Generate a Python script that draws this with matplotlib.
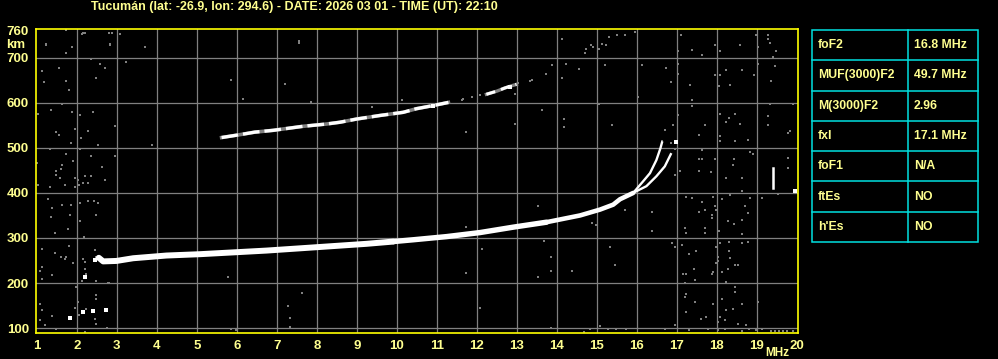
import matplotlib
matplotlib.use("Agg")
import matplotlib.pyplot as plt
from matplotlib.patches import Rectangle

# ionogram Tucuman 2026-03-01 22:10 UT
title = "Tucumán (lat: -26.9, lon: 294.6) - DATE: 2026 03 01 - TIME (UT): 22:10"

x_ticks = list(range(1, 21))
y_ticks = [100, 200, 300, 400, 500, 600, 700, 760]

# F2 trace (common part, then O and X branches)
f2_freq = [2.55, 2.66, 2.99, 3.41, 4.24, 5.08, 5.91, 6.74, 7.58, 8.41, 9.24,
           9.91, 10.41, 11.24, 12.08, 12.91, 13.74, 14.58, 15.08, 15.41, 15.58, 15.91]
f2_height = [256, 248, 249, 255, 261, 264, 268, 272, 277, 282, 287,
             292, 296, 303, 312, 324, 335, 350, 363, 374, 386, 400]
o_freq = [15.91, 16.16, 16.33, 16.49, 16.59, 16.63]
o_height = [400, 426, 444, 473, 499, 512]
x_freq = [15.95, 16.24, 16.49, 16.70, 16.85]
x_height = [402, 415, 437, 459, 486]

# second hop
hop2a_freq = [5.62, 6.12, 6.45, 6.91, 7.66, 8.24, 8.58, 8.99, 9.58, 10.16, 10.49, 10.91, 11.29]
hop2a_height = [523, 530, 535, 539, 548, 553, 557, 564, 572, 579, 587, 594, 601]
hop2b_freq = [12.24, 12.5, 12.7, 12.87, 12.99]
hop2b_height = [619, 626, 633, 638, 641]

# short echo near 19.4 MHz
spur_freq = [19.4, 19.4]
spur_height = [411, 455]

# isolated strong pixels
dot_freq = [2.41, 2.74, 2.15, 1.84, 2.2, 16.99, 19.95, 12.83, 10.91, 2.45]
dot_height = [138, 139, 136, 122, 214, 514, 405, 636, 594, 252]

# grey noise pixels
noise_freq = [
    1.74, 1.24, 1.89, 1.74, 2.15, 2.84, 3.7, 2.35, 2.59, 2.7, 3.24, 1.55, 1.14, 1.19,
    1.74, 2.49, 1.8, 1.64, 1.35, 1.89, 1.04, 2.09, 2.41, 2.95, 2.29, 1.95, 1.49, 1.55,
    2.1, 1.85, 2.53, 3.89, 1.33, 2.09, 1.74, 2.35, 2.95, 1.64, 1.0, 1.91, 2.64, 1.49,
    1.6, 1.49, 2.2, 2.35, 1.59, 1.95, 2.03, 2.7, 2.16, 2.29, 1.7, 1.03, 1.34, 1.95,
    2.06, 1.29, 2.29, 2.44, 1.64, 1.85, 2.09, 1.39, 2.53, 1.83, 2.49, 1.35, 2.09, 1.77,
    1.45, 2.18, 1.81, 1.14, 2.45, 1.45, 1.6, 1.74, 1.7, 2.16, 2.2, 1.91, 2.49, 1.14,
    1.09, 2.2, 2.24, 1.39, 1.14, 2.14, 2.49, 2.8, 1.99, 2.49, 2.49, 1.09, 2.03, 1.95,
    1.14, 2.24, 1.39, 2.06, 2.45, 1.09, 1.2, 1.49, 2.49, 2.76, 2.2, 2.14, 2.2, 2.8,
    2.89, 3.09, 1.24, 1.89, 2.84,
    7.55, 7.55, 5.85, 7.2, 6.15, 7.85, 10.14, 11.66, 11.87, 9.39, 5.79, 7.63, 7.28,
    7.34, 7.34, 5.85, 5.99, 2.78,
    14.14, 14.7, 14.74, 14.85, 14.91, 15.05, 15.14, 15.24, 15.3, 15.5, 15.7, 15.95,
    13.89, 14.24, 14.55, 15.2, 16.14, 16.74, 13.74, 14.14, 13.39, 13.34, 13.03, 12.95,
    11.64, 11.89, 12.09, 16.04, 15.05, 13.64, 14.19, 14.19, 12.95, 15.39, 16.7, 11.74,
    11.74, 13.54, 15.7, 16.39, 16.39, 14.99, 14.89, 13.69, 12.14, 13.85, 15.34, 15.45,
    13.85, 14.39, 13.54, 11.74, 12.09, 13.85, 14.84, 15.09, 15.28, 15.48, 15.74, 14.69,
    16.7,
    17.1, 17.39, 17.64, 17.03, 17.95, 18.09, 18.59, 18.99, 19.28, 19.28, 19.34, 19.04,
    19.49, 19.41, 16.74, 17.03, 17.04, 16.85, 18.22, 18.62, 17.95, 18.09, 18.93, 19.04,
    19.45, 19.35, 17.34, 18.32, 18.05, 17.39, 17.39, 19.91, 19.34, 17.03, 18.09, 18.3,
    18.45, 18.22, 18.59, 19.29, 19.29, 17.7, 16.91, 16.7, 19.83, 19.78, 17.56, 18.09,
    18.09, 18.45, 18.79, 16.64, 16.85, 16.95, 17.64, 18.84, 18.91, 19.78, 17.64, 17.56,
    17.95, 18.42, 19.79, 17.09, 17.56, 17.85, 18.22, 18.62, 18.41, 16.95, 18.63, 17.91,
    18.12, 17.39, 17.24, 18.32, 18.82, 19.13, 19.52, 17.64, 17.95, 18.7, 17.56, 17.7,
    17.89, 17.89, 17.99, 18.29, 18.62, 18.79, 18.42, 17.2, 17.7, 17.7, 17.24, 18.05,
    18.62, 16.87, 17.14, 16.95, 17.99, 18.09, 18.3, 18.62, 18.79, 17.49, 17.31, 18.3,
    18.04, 18.32, 18.04, 17.99, 18.45, 18.53, 17.44, 17.16, 17.24, 17.45, 17.89, 17.91,
    18.14, 18.28, 18.22, 18.45, 18.45, 17.2, 17.2, 17.24, 17.45, 17.24, 17.91, 18.14,
    18.22, 18.41, 18.62, 19.04, 17.61, 17.74, 18.04, 18.2, 18.08, 18.53, 18.74, 16.95,
    16.7, 17.31, 17.78, 18.04, 18.2, 18.62, 18.8, 18.99, 19.12, 19.35, 19.45, 19.55,
    19.65, 19.75, 19.9,
]
noise_height = [
    761, 729, 724, 711, 755, 729, 723, 698, 686, 678, 690, 678, 670, 646,
    648, 656, 629, 598, 585, 579, 576, 572, 580, 549, 538, 541, 535, 528,
    522, 510, 506, 506, 498, 497, 486, 483, 483, 462, 466, 470, 457, 448,
    453, 439, 438, 437, 433, 433, 429, 429, 422, 422, 418, 418, 413, 413,
    418, 387, 382, 382, 373, 373, 378, 366, 377, 351, 351, 347, 338, 321,
    311, 302, 283, 276, 273, 267, 258, 258, 253, 253, 246, 244, 258, 236,
    227, 231, 219, 218, 209, 204, 204, 200, 191, 173, 164, 154, 158, 145,
    141, 142, 127, 130, 121, 118, 107, 98, 110, 101, 92, 752, 756, 756,
    756, 752, 730, 725, 730,
    738, 734, 651, 642, 609, 603, 607, 608, 614, 590, 214, 178, 149,
    122, 103, 97, 96, 201,
    742, 710, 720, 729, 724, 720, 731, 729, 747, 751, 751, 758,
    683, 686, 675, 683, 683, 678, 664, 656, 651, 648, 643, 620,
    607, 614, 617, 612, 598, 584, 564, 547, 553, 550, 540, 535,
    325, 370, 361, 357, 315, 329, 334, 294, 276, 258, 281, 241,
    227, 227, 214, 223, 145, 100, 97, 104, 97, 97, 97, 92,
    98,
    751, 718, 707, 716, 729, 716, 729, 751, 751, 742, 733, 724,
    716, 702, 678, 686, 664, 646, 673, 673, 661, 661, 662, 686,
    681, 648, 639, 640, 638, 607, 592, 597, 597, 573, 575, 567,
    575, 558, 553, 570, 550, 550, 550, 540, 538, 533, 528, 526,
    515, 515, 518, 515, 511, 498, 496, 492, 487, 478, 476, 475,
    475, 475, 455, 448, 448, 446, 434, 434, 461, 439, 405, 392,
    387, 388, 392, 396, 388, 388, 397, 379, 370, 370, 357, 361,
    351, 344, 361, 337, 340, 355, 330, 322, 322, 310, 310, 316,
    308, 288, 284, 281, 279, 288, 292, 288, 292, 271, 265, 271,
    258, 255, 249, 244, 241, 241, 231, 219, 219, 207, 219, 224,
    224, 230, 203, 192, 181, 199, 170, 175, 157, 136, 153, 164,
    140, 142, 154, 158, 120, 124, 114, 118, 125, 110, 107, 107,
    98, 96, 98, 96, 98, 93, 97, 96, 98, 94, 93, 94,
    93, 94, 93,
]

W, H = 998, 359
yellow = "#ffff00"
text_yellow = "#ffff90"
font = "Liberation Sans"

fig = plt.figure(figsize=(W / 100, H / 100), dpi=100, facecolor="black")
ax = fig.add_axes([36 / W, (H - 333) / H, (798 - 36) / W, (333 - 29) / H])
ax.set_facecolor("black")
ax.set_xlim(0.98, 20.03)
ax.set_ylim(89, 764)

ax.set_xticks(x_ticks)
ax.set_xticklabels([str(v) for v in x_ticks])
ax.set_yticks(y_ticks)
ax.set_yticklabels([str(v) for v in y_ticks])
ax.tick_params(length=0, colors=text_yellow, labelsize=9.5, pad=5)
for lab in ax.get_xticklabels() + ax.get_yticklabels():
    lab.set_fontweight("bold")
    lab.set_family(font)
# grid: skip the 760 label line and the 20 edge
for xv in x_ticks[1:-1]:
    ax.axvline(xv, color="#808080", lw=0.9, zorder=1)
for yv in y_ticks[:-1]:
    ax.axhline(yv, color="#808080", lw=0.9, zorder=1)
for sp in ax.spines.values():
    sp.set_color(yellow)
    sp.set_linewidth(1.2)

ax.plot(noise_freq, noise_height, "s", color="#808080", ms=1.8, mew=0, zorder=2)
ax.plot(f2_freq[:12], f2_height[:12], color="white", lw=4.3, solid_capstyle="round", zorder=4)
ax.plot(f2_freq[11:17], f2_height[11:17], color="white", lw=3.9, solid_capstyle="round", zorder=4)
ax.plot(f2_freq[16:], f2_height[16:], color="white", lw=3.3, solid_capstyle="round", zorder=4)
ax.plot(o_freq, o_height, color="white", lw=1.7, zorder=4)
ax.plot(x_freq, x_height, color="white", lw=1.7, zorder=4)
ax.plot(hop2a_freq, hop2a_height, color="#808080", lw=2.6, zorder=3)
ax.plot(hop2a_freq, hop2a_height, color="white", lw=2.4, dashes=(5, 1.5), zorder=4)
ax.plot(hop2b_freq, hop2b_height, color="#808080", lw=2.4, zorder=3)
ax.plot(hop2b_freq, hop2b_height, color="white", lw=2.2, dashes=(3, 2), zorder=4)
ax.plot(spur_freq, spur_height, color="white", lw=1.8, zorder=4)
ax.plot(dot_freq, dot_height, "s", color="white", ms=2.4, mew=0, zorder=4)

# overlay in pixel units for labels and the parameter table
ov = fig.add_axes([0, 0, 1, 1])
ov.set_xlim(0, W)
ov.set_ylim(H, 0)
ov.axis("off")
ov.patch.set_alpha(0)

ov.text(91, 7, title, color=text_yellow, fontsize=9, fontweight="bold",
        family=font, ha="left", va="center")
ov.text(6, 45, "km", color=text_yellow, fontsize=9.5, fontweight="bold",
        family=font, ha="left", va="center")
ov.text(765, 353, "MHz", color=text_yellow, fontsize=8.5, fontweight="bold",
        family=font, ha="left", va="center")

params = ["foF2", "MUF(3000)F2", "M(3000)F2", "fxI", "foF1", "ftEs", "h'Es"]
values = ["16.8 MHz", "49.7 MHz", "2.96", "17.1 MHz", "N/A", "NO", "NO"]

cyan = "#00e0e0"
tx0, tx1, tcol = 812, 978, 908
ty0, ty1 = 30, 242
row_h = (ty1 - ty0) / len(params)
ov.add_patch(Rectangle((tx0, ty0), tx1 - tx0, ty1 - ty0, fill=False, ec=cyan, lw=1.1))
ov.plot([tcol, tcol], [ty0, ty1], color=cyan, lw=1.1)
for i, (p, v) in enumerate(zip(params, values)):
    yc = ty0 + row_h * (i + 0.5)
    if i > 0:
        ov.plot([tx0, tx1], [ty0 + row_h * i] * 2, color=cyan, lw=1.1)
    ov.text(818, yc, p, color=text_yellow, fontsize=8.8, fontweight="bold",
            family=font, ha="left", va="center")
    ov.text(914, yc, v, color=text_yellow, fontsize=8.8, fontweight="bold",
            family=font, ha="left", va="center")

fig.savefig("out.png", dpi=100, facecolor="black")
